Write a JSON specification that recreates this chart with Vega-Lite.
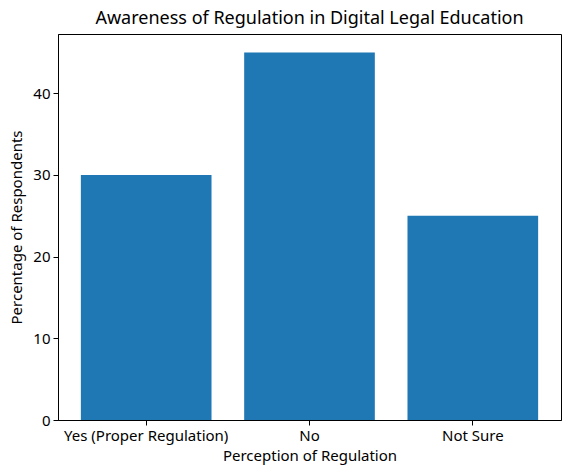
{
  "$schema": "https://vega.github.io/schema/vega-lite/v6.json",
  "width": 503,
  "height": 386,
  "autosize": {"type": "none"},
  "padding": {"left": 58, "top": 34, "right": 9, "bottom": 55},
  "background": "white",
  "title": {"text": "Awareness of Regulation in Digital Legal Education", "font": "Noto Sans", "fontSize": 18, "fontWeight": "normal", "color": "black", "offset": 6},
  "data": {"values": [
    {"category": "Yes (Proper Regulation)", "value": 30},
    {"category": "No", "value": 45},
    {"category": "Not Sure", "value": 25}
  ]},
  "mark": {"type": "bar", "color": "#1f77b4"},
  "encoding": {
    "x": {"field": "category", "type": "nominal", "sort": null,
      "scale": {"paddingInner": 0.2, "paddingOuter": 0.14},
      "axis": {"title": "Perception of Regulation", "labelAngle": 0, "labelFont": "Noto Sans", "labelFontSize": 15, "labelColor": "black", "titleFont": "Noto Sans", "titleFontSize": 15, "titleFontWeight": "normal", "titleColor": "black", "tickColor": "black", "domainColor": "black", "tickSize": 5, "labelPadding": 3, "titlePadding": 5}},
    "y": {"field": "value", "type": "quantitative",
      "scale": {"domain": [0, 47.25], "nice": false},
      "axis": {"title": "Percentage of Respondents", "values": [0, 10, 20, 30, 40], "grid": false, "labelFont": "Noto Sans", "labelFontSize": 15, "labelColor": "black", "titleFont": "Noto Sans", "titleFontSize": 15, "titleFontWeight": "normal", "titleColor": "black", "tickColor": "black", "domainColor": "black", "tickSize": 5, "labelPadding": 3, "titlePadding": 8}}
  },
  "config": {"view": {"stroke": "black", "strokeWidth": 1}}
}
